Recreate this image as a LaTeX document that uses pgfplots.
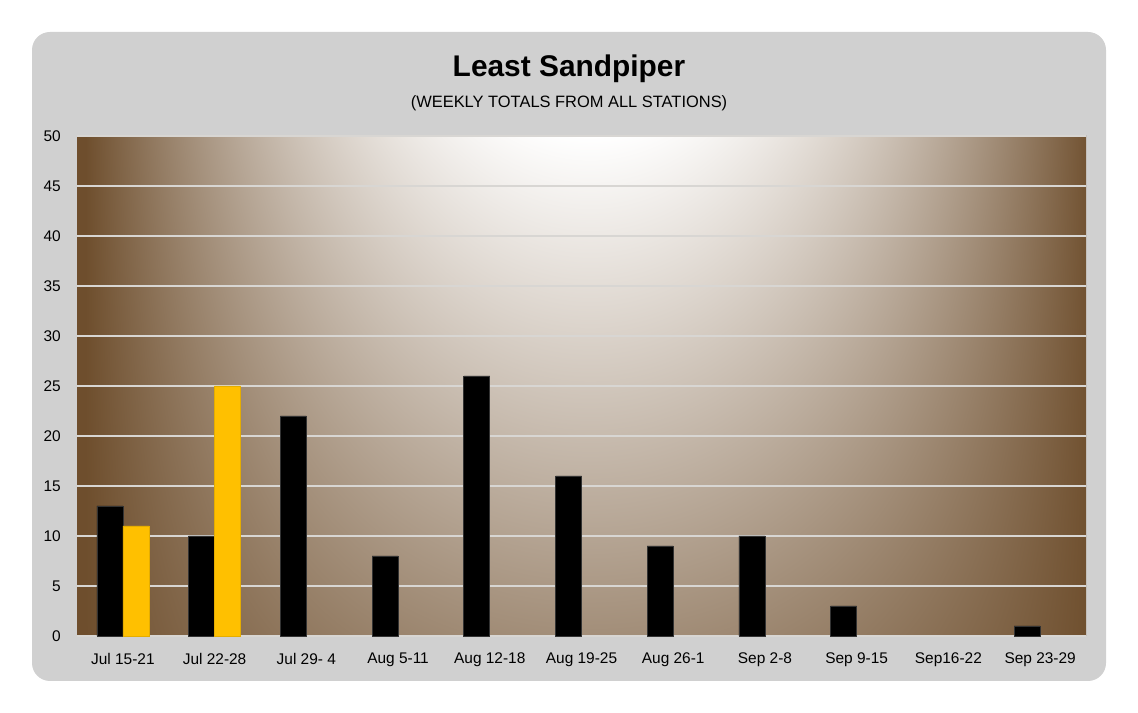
\documentclass[border=0pt]{standalone}
\usepackage{fontspec}
\setmainfont{Liberation Sans}
\usepackage{pgfplots}
\pgfplotsset{compat=1.18}
\definecolor{boxgray}{HTML}{D0D0D0}
\definecolor{barY}{HTML}{FFC000}
\definecolor{gridc}{HTML}{D8D6D3}
\pgfdeclarefunctionalshading{bgshade}{\pgfpoint{-50bp}{-50bp}}{\pgfpoint{50bp}{50bp}}{}{%
  25 exch sub 50 div
  dup 0 lt {pop 0} if dup 1 gt {pop 1} if
  0.64 mul 1 exch sub
  exch 0.42 sub 25 div abs dup 1 gt {pop 1} if
  1.95 exp 1 exch sub
  mul 1 exch sub 145 mul
  dup 255 exch sub 255 div
  exch dup 1.22 mul 255 exch sub 255 div
  exch 1.45 mul 255 exch sub 255 div
}
\begin{document}
\begin{tikzpicture}[x=1bp,y=1bp]
\useasboundingbox (0,0) rectangle (1138,713);
\fill[white] (0,0) rectangle (1138,713);
\fill[boxgray, rounded corners=18bp] (32,32) rectangle (1106,681);
\shade[shading=bgshade] (77,77) rectangle (1086,577);
\node[anchor=base, font=\fontsize{30}{34}\selectfont\bfseries, inner sep=0pt] at (569,636) {Least Sandpiper};
\node[anchor=base, font=\fontsize{16.5}{19}\selectfont, inner sep=0pt] at (569,605) {(WEEKLY TOTALS FROM ALL STATIONS)};
\begin{axis}[
  at={(77bp,77bp)}, anchor=south west,
  scale only axis, width=1009bp, height=500bp,
  xmin=-0.5, xmax=10.5, ymin=0, ymax=50,
  ytick={0,5,...,50},
  xtick={0,...,10},
  xticklabels={Jul 15-21,Jul 22-28,Jul 29- 4,Aug 5-11,Aug 12-18,Aug 19-25,Aug 26-1,Sep 2-8,Sep 9-15,Sep16-22,Sep 23-29},
  axis line style={draw=none},
  major tick length=0pt,
  ymajorgrids, grid style={gridc, line width=1.5bp},
  tick label style={font=\fontsize{15.5}{18}\selectfont, /pgf/number format/assume math mode=true},
  yticklabel style={anchor=east, inner sep=0pt, xshift=-16bp},
  xticklabel style={anchor=north, inner sep=0pt, yshift=-17bp},
  ybar=0pt, bar width=26bp,
  clip=false,
]
\addplot[fill=black, draw=black!80, line width=0.6bp] coordinates {(0,13) (1,10) (2,22) (3,8) (4,26) (5,16) (6,9) (7,10) (8,3) (10,1)};
\addplot[fill=barY, draw=barY!90!black, line width=0.6bp] coordinates {(0,11) (1,25)};
\end{axis}
\end{tikzpicture}
\end{document}
